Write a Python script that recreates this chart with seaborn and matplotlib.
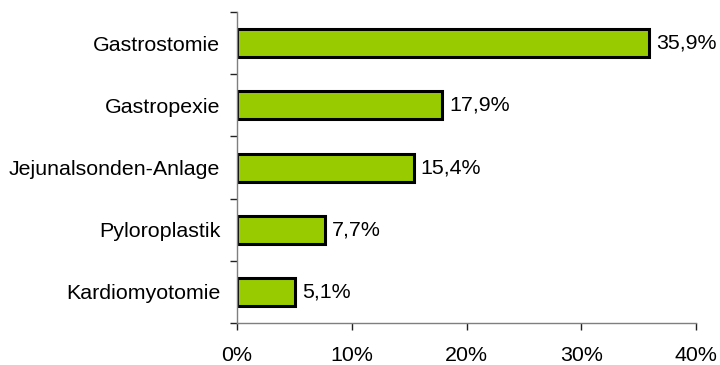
import matplotlib
matplotlib.use("Agg")
import matplotlib.pyplot as plt
from matplotlib.ticker import FixedLocator, FuncFormatter
import seaborn as sns
import pandas as pd

categories = ["Gastrostomie", "Gastropexie", "Jejunalsonden-Anlage", "Pyloroplastik", "Kardiomyotomie"]
values = [35.9, 17.9, 15.4, 7.7, 5.1]
xticks = [0, 10, 20, 30, 40]

sns.set_theme(style="white")
plt.rcParams["font.family"] = ["Liberation Sans", "DejaVu Sans"]
plt.rcParams["text.color"] = "black"
plt.rcParams["xtick.labelcolor"] = "black"
plt.rcParams["ytick.labelcolor"] = "black"

FS = 15.4

df = pd.DataFrame({"Eingriff": categories, "Anteil": values})

fig = plt.figure(figsize=(7.2, 3.65), dpi=100)
ax = fig.add_axes([0.329, 0.115, 0.638, 0.852])

sns.barplot(data=df, x="Anteil", y="Eingriff", orient="h", color="#99CC00",
            saturation=1, width=0.45, edgecolor="black", linewidth=2.2, ax=ax)

for p, v in zip(ax.patches, values):
    ax.text(p.get_width() + 0.6, p.get_y() + p.get_height() / 2,
            f"{v:.1f}%".replace(".", ","), va="center", ha="left",
            fontsize=FS, color="black")

ax.set_xlim(0, 40)
ax.set_ylim(len(categories) - 0.5, -0.5)
ax.set_xticks(xticks)
ax.xaxis.set_major_formatter(FuncFormatter(lambda x, _: f"{x:.0f}%"))
ax.yaxis.set_minor_locator(FixedLocator([i - 0.5 for i in range(len(categories) + 1)]))

ax.set_xlabel("")
ax.set_ylabel("")
for s in ["top", "right"]:
    ax.spines[s].set_visible(False)
for s in ["left", "bottom"]:
    ax.spines[s].set_color("#7f7f7f")
    ax.spines[s].set_linewidth(1)

ax.tick_params(axis="x", which="major", direction="out", length=5, width=1,
               color="#222222", labelsize=FS, pad=11.5, bottom=True)
ax.tick_params(axis="y", which="major", length=0, labelsize=FS, pad=12)
ax.tick_params(axis="y", which="minor", direction="out", length=5, width=1,
               color="#222222", left=True)

fig.savefig("out.png", dpi=100)
